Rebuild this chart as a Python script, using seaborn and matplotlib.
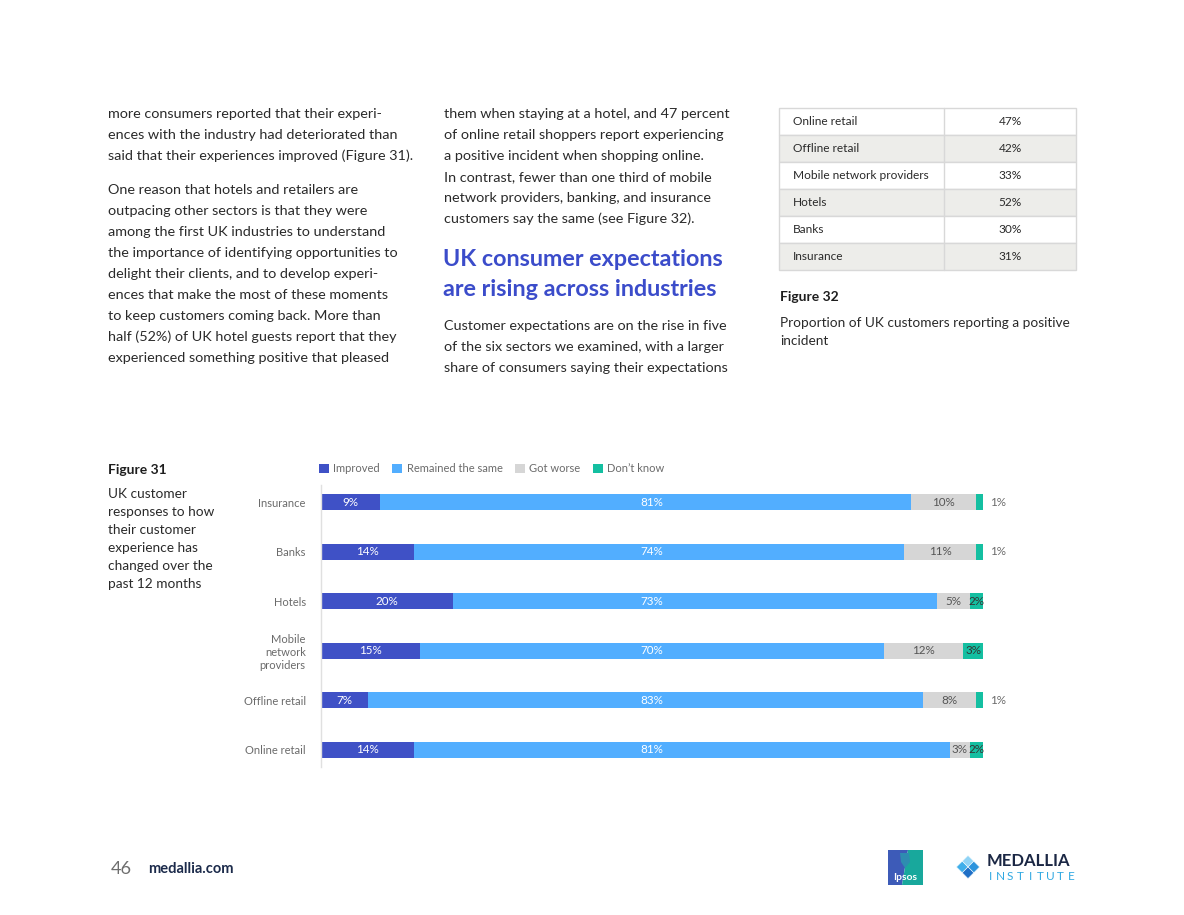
import numpy as np
import pandas as pd
import seaborn as sns
import matplotlib.pyplot as plt
from matplotlib.patches import Patch, Rectangle, Polygon

## DATOS
sectores = ["Insurance", "Banks", "Hotels", "Mobile\nnetwork\nproviders", "Offline retail", "Online retail"]
improved = [9, 14, 20, 15, 7, 14]
remained = [81, 74, 73, 70, 83, 81]
got_worse = [10, 11, 5, 12, 8, 3]
dont_know = [1, 1, 2, 3, 1, 2]
series = ["Improved", "Remained the same", "Got worse", "Don\u2019t know"]

tabla_sectores = ["Online retail", "Offline retail", "Mobile network providers", "Hotels", "Banks", "Insurance"]
tabla_valores = ["47%", "42%", "33%", "52%", "30%", "31%"]

colores = ["#3F51C6", "#52AEFF", "#D6D6D6", "#14BFA1"]
TEXTO = "#2A2A2A"
GRIS = "#6B6B6B"
AZUL_TITULO = "#3B4CCA"
W, H = 1184, 915

sns.set_style("white")
plt.rcParams["font.family"] = ["Lato", "DejaVu Sans"]

fig = plt.figure(figsize=(W / 100, H / 100), dpi=100)

# capa de fondo en coordenadas de pixel
bg = fig.add_axes([0, 0, 1, 1], zorder=0)
bg.set_xlim(0, W)
bg.set_ylim(H, 0)
bg.axis("off")


def bloque(x, ys, lineas, **kw):
    for y, linea in zip(ys, lineas):
        bg.text(x, y, linea, va="center", ha="left", **kw)


## TEXTO DEL ARTICULO
col1 = ["more consumers reported that their experi-",
        "ences with the industry had deteriorated than",
        "said that their experiences improved (Figure 31).",
        "One reason that hotels and retailers are",
        "outpacing other sectors is that they were",
        "among the first UK industries to understand",
        "the importance of identifying opportunities to",
        "delight their clients, and to develop experi-",
        "ences that make the most of these moments",
        "to keep customers coming back. More than",
        "half (52%) of UK hotel guests report that they",
        "experienced something positive that pleased"]
ys1 = [114, 135, 156, 190, 211, 232, 253, 274, 295, 316, 337, 358]
bloque(108, ys1, col1, fontsize=10.4, color=TEXTO)

col2a = ["them when staying at a hotel, and 47 percent",
         "of online retail shoppers report experiencing",
         "a positive incident when shopping online.",
         "In contrast, fewer than one third of mobile",
         "network providers, banking, and insurance",
         "customers say the same (see Figure 32)."]
bloque(444, [114, 135, 156, 177, 198, 219], col2a, fontsize=10.4, color=TEXTO)
bloque(443, [259, 289], ["UK consumer expectations", "are rising across industries"],
       fontsize=16.8, fontweight="bold", color=AZUL_TITULO)
col2b = ["Customer expectations are on the rise in five",
         "of the six sectors we examined, with a larger",
         "share of consumers saying their expectations"]
bloque(444, [326, 347, 368], col2b, fontsize=10.4, color=TEXTO)

## TABLA (Figure 32)
x0, x1, xm = 779, 1076, 944
fila = 27
for i, (s, v) in enumerate(zip(tabla_sectores, tabla_valores)):
    top = 108 + i * fila
    fondo = "#FFFFFF" if i % 2 == 0 else "#EDEDEA"
    bg.add_patch(Rectangle((x0, top), x1 - x0, fila, facecolor=fondo,
                           edgecolor="#D8D8D8", linewidth=1))
    bg.plot([xm, xm], [top, top + fila], color="#D8D8D8", linewidth=1)
    bg.text(793, top + fila / 2, s, va="center", ha="left", fontsize=8.6, color=TEXTO)
    bg.text(1010, top + fila / 2, v, va="center", ha="center", fontsize=8.6, color=TEXTO)

bg.text(780, 297, "Figure 32", va="center", fontsize=10, fontweight="bold", color="#1E1E1E")
bloque(780, [323, 341], ["Proportion of UK customers reporting a positive", "incident"],
       fontsize=9.8, color=TEXTO)

## Figure 31 texto
bg.text(108, 470, "Figure 31", va="center", fontsize=10, fontweight="bold", color="#1E1E1E")
bloque(108, [494, 512, 530, 548, 566, 584],
       ["UK customer", "responses to how", "their customer", "experience has",
        "changed over the", "past 12 months"], fontsize=9.8, color=TEXTO)

## GRAFICO DE BARRAS APILADAS
df = pd.DataFrame({"Sector": sectores, series[0]: improved, series[1]: remained,
                   series[2]: got_worse, series[3]: dont_know})
vals = df[series].to_numpy(dtype=float)
norm = vals / vals.sum(axis=1, keepdims=True) * 100
acum = np.cumsum(norm, axis=1)

top_px, bot_px = 485, 767
ax = fig.add_axes([321 / W, 1 - bot_px / H, (983 - 321) / W, (bot_px - top_px) / H], zorder=2)
ax.patch.set_alpha(0)

# se pintan las sumas acumuladas de mayor a menor, superpuestas
for k in range(3, -1, -1):
    sns.barplot(x=acum[:, k], y=df["Sector"], orient="h", color=colores[k],
                width=0.33, errorbar=None, linewidth=0, saturation=1, ax=ax)

ax.set_xlim(0, 100)
ax.set_ylim(5.35, -0.35)
ax.set_xlabel("")
ax.set_ylabel("")
ax.set_xticks([])
ax.tick_params(axis="y", length=0, pad=11, labelsize=8, labelcolor=GRIS)
for lab in ax.get_yticklabels():
    lab.set_multialignment("right")
sns.despine(ax=ax, left=False, bottom=True)
ax.spines["left"].set_color("#E0E0E0")
ax.spines["left"].set_linewidth(1)

# etiquetas de valores
for i in range(len(sectores)):
    inicio = np.concatenate([[0], acum[i, :-1]])
    for k in range(4):
        v = vals[i, k]
        centro = inicio[k] + norm[i, k] / 2
        if k == 1:
            centro = 50
        if k == 3 and v < 2:
            ax.text(102.2, i, f"{v:.0f}%", va="center", ha="center", fontsize=8.4, color=GRIS)
            continue
        color_txt = "white" if k < 2 else ("#555555" if k == 2 else "#333333")
        ax.text(centro, i, f"{v:.0f}%", va="center", ha="center", fontsize=8.4, color=color_txt)

manejadores = [Patch(facecolor=c, edgecolor="none", label=s) for c, s in zip(colores, series)]
ax.legend(handles=manejadores, loc="center left", bbox_to_anchor=(319, 469),
          bbox_transform=bg.transData, ncol=4, frameon=False, fontsize=8,
          labelcolor=GRIS, handlelength=0.9, handleheight=0.9, handletextpad=0.4,
          columnspacing=1.1, borderpad=0, borderaxespad=0)

## PIE DE PAGINA
bg.text(111, 869, "46", va="center", fontsize=13, color="#6E6E6E")
bg.text(148, 869, "medallia.com", va="center", fontsize=10.5, fontweight="bold", color="#1C2B4B")

# logo Ipsos
bg.add_patch(Polygon([(888, 850), (908, 850), (902, 885), (888, 885)], facecolor="#3D5BB8", edgecolor="none"))
bg.add_patch(Polygon([(908, 850), (923, 850), (923, 885), (902, 885)], facecolor="#18A89C", edgecolor="none"))
bg.add_patch(Polygon([(900, 853), (909, 853), (910, 862), (905, 868), (901, 862)], facecolor="#2E8CB0", edgecolor="none"))
bg.text(905.5, 877, "Ipsos", va="center", ha="center", fontsize=7.5, fontweight="bold", color="white")

# logo Medallia Institute
cx, cy, h = 968, 867, 5.8
for (dx, dy), c in zip([(0, -1), (-1, 0), (1, 0), (0, 1)], ["#8FD3F6", "#3FAEEA", "#2C94DD", "#1F6FC6"]):
    px, py = cx + dx * h, cy + dy * h
    bg.add_patch(Polygon([(px, py - h), (px + h, py), (px, py + h), (px - h, py)],
                         facecolor=c, edgecolor="white", linewidth=0.4))
bg.text(987, 861, "MEDALLIA", va="center", ha="left", fontsize=12, fontweight="bold", color="#1B2744")
for j, letra in enumerate("INSTITUTE"):
    bg.text(990 + j * 10.1, 876, letra, va="center", ha="center", fontsize=8.5, color="#2FA8E2")

fig.savefig("out.png", dpi=100)
